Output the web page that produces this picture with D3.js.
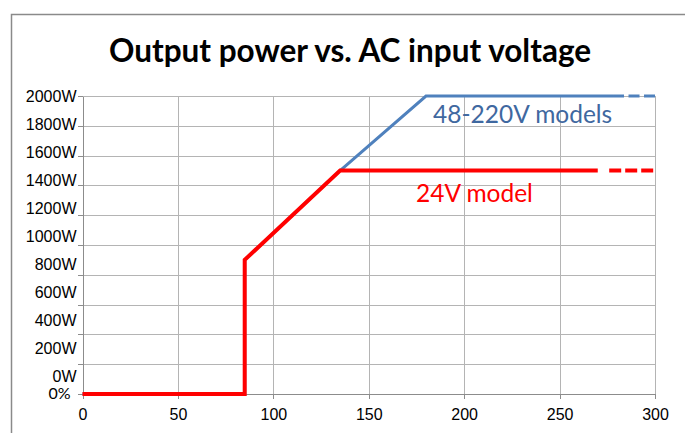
<!DOCTYPE html>
<meta charset="utf-8">
<style>
body { margin: 0; background: #fff; }
svg { display: block; font-family: Lato, "Liberation Sans", sans-serif; }
.grid line { stroke: #b4b4b4; stroke-width: 1px; shape-rendering: crispEdges; }
.grid path { stroke-width: 0; }
.axis path, .axis line { stroke: #8c8c8c; shape-rendering: crispEdges; }
.axis text { fill: #000; font-size: 16px; }
.line { fill: none; stroke-linejoin: miter; }
</style>
<body>
<script src="https://d3js.org/d3.v7.min.js"></script>
<script>

// chart data
var voltTicks = [0, 50, 100, 150, 200, 250, 300];
var powerTicks = [0, 200, 400, 600, 800, 1000, 1200, 1400, 1600, 1800, 2000];

// 48-220V models (blue), solid part then dashed tail
var blueSolid = [[0, 0], [85, 0], [85, 900], [135, 1500], [180, 2000], [278, 2000]];
var blueDash = [[278, 2000], [300, 2000]];

// 24V model (red)
var redSolid = [[0, 0], [85, 0], [85, 900], [135, 1500], [270, 1500]];
var redDash = [[276, 1500], [300, 1500]];

var W = 685, H = 433;

var svg = d3.select("body").append("svg")
    .attr("width", W)
    .attr("height", H);

// outer chart frame
svg.append("path")
    .attr("d", "M11.5," + H + "V14.5H" + W)
    .attr("fill", "none")
    .attr("stroke", "#8a8a8a")
    .attr("stroke-width", 1.5);

// scales
var x = d3.scaleLinear().domain([0, 300]).range([82.5, 655]);
var y = d3.scaleLinear().domain([0, 2000]).range([394, 96]);
// the W labels sit on their own spacing
var yLab = d3.scaleLinear().domain([0, 2000]).range([376, 96]);

// title
svg.append("text")
    .attr("x", 350)
    .attr("y", 62)
    .attr("text-anchor", "middle")
    .style("font-size", "31.5px")
    .style("font-weight", "bold")
    .text("Output power vs. AC input voltage");

// gridlines
svg.append("g")
    .attr("class", "grid")
    .attr("transform", "translate(" + x(0) + ",0)")
    .call(d3.axisLeft(y).tickValues(powerTicks).tickSize(-(x(300) - x(0))).tickFormat(""));

svg.append("g")
    .attr("class", "grid")
    .attr("transform", "translate(0," + y(0) + ")")
    .call(d3.axisBottom(x).tickValues(voltTicks).tickSize(-(y(0) - y(2000))).tickFormat(""));

// x axis
svg.append("g")
    .attr("class", "axis")
    .attr("transform", "translate(0," + y(0) + ")")
    .call(d3.axisBottom(x).tickValues(voltTicks).tickSize(5).tickSizeOuter(0).tickPadding(10));

// y axis: tick marks on gridlines
svg.append("g")
    .attr("class", "axis")
    .attr("transform", "translate(" + x(0) + ",0)")
    .call(d3.axisLeft(y).tickValues(powerTicks).tickSize(5).tickSizeOuter(0).tickFormat(""));

// y labels
var yLabels = svg.append("g")
    .attr("class", "axis")
    .attr("transform", "translate(" + (x(0) - 6) + ",0)")
    .call(d3.axisLeft(yLab).tickValues(powerTicks).tickSize(0).tickPadding(0)
        .tickFormat(function(d) { return d + "W"; }));
yLabels.select(".domain").remove();

svg.append("text")
    .attr("x", x(0) - 12)
    .attr("y", y(0))
    .attr("dy", "0.32em")
    .attr("text-anchor", "end")
    .style("font-size", "16px")
    .text("0%");

// lines
var line = d3.line()
    .x(function(d) { return x(d[0]); })
    .y(function(d) { return y(d[1]); });

svg.append("path").datum(blueSolid)
    .attr("class", "line")
    .attr("stroke", "#4f81bd")
    .attr("stroke-width", 3)
    .attr("d", line);

svg.append("path").datum(blueDash)
    .attr("class", "line")
    .attr("stroke", "#4f81bd")
    .attr("stroke-width", 3)
    .attr("stroke-dasharray", "11,4.5")
    .attr("d", line);

svg.append("path").datum(redSolid)
    .attr("class", "line")
    .attr("stroke", "#ff0000")
    .attr("stroke-width", 4)
    .attr("d", line);

svg.append("path").datum(redDash)
    .attr("class", "line")
    .attr("stroke", "#ff0000")
    .attr("stroke-width", 4)
    .attr("stroke-dasharray", "12,4")
    .attr("d", line);

// series labels
svg.append("text")
    .attr("x", 433)
    .attr("y", 123)
    .style("font-size", "24.5px")
    .attr("fill", "#3f68a0")
    .text("48-220V models");

svg.append("text")
    .attr("x", 416)
    .attr("y", 202)
    .style("font-size", "24.5px")
    .attr("fill", "#ff0000")
    .text("24V model");

</script>
</body>
